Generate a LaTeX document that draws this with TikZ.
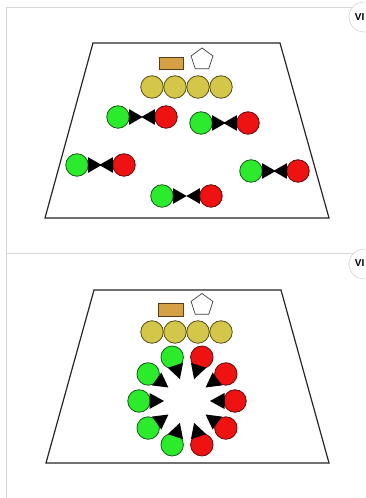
\documentclass[tikz,border=0pt]{standalone}
\usepackage{fontspec}
\setsansfont{Liberation Sans}
\usetikzlibrary{shapes.geometric}
\definecolor{gfill}{RGB}{44,234,44}
\definecolor{gdraw}{RGB}{20,90,20}
\definecolor{rfill}{RGB}{238,18,18}
\definecolor{rdraw}{RGB}{100,10,10}
\definecolor{yfill}{RGB}{212,198,72}
\definecolor{ydraw}{RGB}{85,78,25}
\definecolor{bfill}{RGB}{214,160,70}
\definecolor{bdraw}{RGB}{90,62,25}
\definecolor{frameline}{RGB}{216,216,216}
\begin{document}
\begin{tikzpicture}[x=1pt,y=1pt,
  gc/.style={circle,draw=gdraw,fill=gfill,line width=0.8pt,minimum size=22.5pt,inner sep=0pt},
  rc/.style={circle,draw=rdraw,fill=rfill,line width=0.8pt,minimum size=22.5pt,inner sep=0pt},
  yc/.style={circle,draw=ydraw,fill=yfill,line width=0.8pt,minimum size=22.5pt,inner sep=0pt},
  tanbox/.style={rectangle,draw=bdraw,fill=bfill,line width=0.8pt,minimum width=24pt,minimum height=12pt,inner sep=0pt},
  pent/.style={regular polygon,regular polygon sides=5,draw=black!75,fill=white,line width=0.7pt,minimum size=23pt,inner sep=0pt},
  field/.style={draw=black!85,line width=1.2pt,line join=miter},
  tri/.style={fill=black},
  frame/.style={draw=frameline,line width=0.8pt},
  badge/.style={circle,draw=black!18,fill=white,line width=0.6pt,minimum size=30pt,inner sep=0pt},
  badgetext/.style={font=\sffamily\bfseries\fontsize{10}{11}\selectfont,inner sep=0pt,anchor=east}
]
\useasboundingbox (0,0) rectangle (365,498);
\clip (0,0) rectangle (365,498);
\fill[white] (0,0) rectangle (365,498);
% frame lines
\draw[frame] (6.5,0) -- (6.5,491) -- (365,491);
\draw[frame] (6.5,245) -- (365,245);
% badges
\node[badge] (badgeA) at (364,481) {};
\node[badgetext] (badgeAt) at (364.6,481) {VI};
\node[badge] (badgeB) at (364,234) {};
\node[badgetext] (badgeBt) at (364.6,234.5) {VI};

% ================= top panel =================
\draw[field] (93,455) -- (280,455) -- (329,280) -- (45,280) -- cycle;
\node[tanbox] (boxA) at (171,434.5) {};
\node[pent] (pentA) at (202,438.5) {};
\node[yc] (yA1) at (152,411) {};
\node[yc] (yA2) at (175,411) {};
\node[yc] (yA3) at (198,411) {};
\node[yc] (yA4) at (221,411) {};
% pairs
\foreach \i/\gx/\gy/\rx in {1/118/381/166, 2/201/375/248, 3/77/333/124, 4/251/327/298, 5/162/302/211}{
  \node[gc] (g\i) at (\gx,\gy) {};
  \node[rc] (r\i) at (\rx,\gy) {};
  \fill[tri] (g\i.east) ++(-0.5,7.8) -- ++(13.5,-7.8) -- ++(-13.5,-7.8) -- cycle;
  \fill[tri] (r\i.west) ++(0.5,7.8) -- ++(-13.5,-7.8) -- ++(13.5,-7.8) -- cycle;
}

% ================= bottom panel =================
\draw[field] (94,208) -- (281,208) -- (329,35) -- (46,35) -- cycle;
\node[tanbox,minimum width=25pt,minimum height=13pt] (boxB) at (170.5,188.5) {};
\node[pent] (pentB) at (202,193) {};
\node[yc] (yB1) at (152,166) {};
\node[yc] (yB2) at (175,166) {};
\node[yc] (yB3) at (198,166) {};
\node[yc] (yB4) at (221,166) {};
\begin{scope}[shift={(187,97)}]
  \coordinate (ringc) at (0,0);
  \foreach \a [count=\k] in {108,144,180,216,252}{
    \node[gc] (bg\k) at (\a:48 and 46) {};
    \fill[tri,rotate=\a] (37.5,8) -- (37.5,-8) -- (23,0) -- cycle;
  }
  \foreach \a [count=\k] in {72,36,0,-36,-72}{
    \node[rc] (br\k) at (\a:48 and 46) {};
    \fill[tri,rotate=\a] (37.5,8) -- (37.5,-8) -- (23,0) -- cycle;
  }
\end{scope}
\end{tikzpicture}
\end{document}
